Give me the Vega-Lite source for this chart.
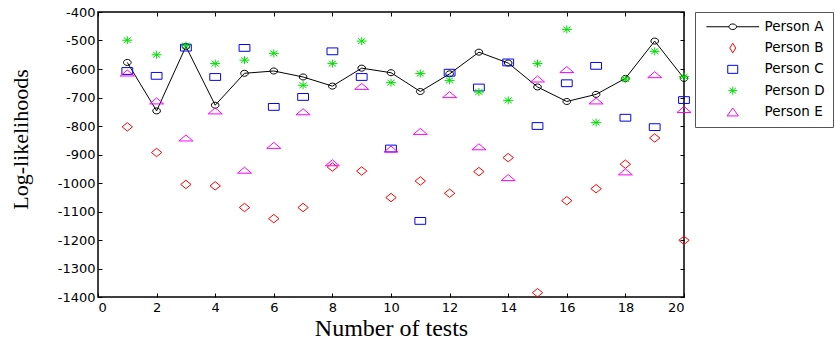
{
  "$schema": "https://vega.github.io/schema/vega-lite/v6.json",
  "width": 586,
  "height": 285,
  "autosize": {"type": "none"},
  "padding": {"left": 98, "top": 12, "right": 151, "bottom": 44},
  "background": "white",
  "config": {
    "view": {"stroke": "#000", "strokeWidth": 1.5},
    "axis": {
      "domain": false, "grid": false, "tickColor": "#000", "tickSize": -4, "tickWidth": 1,
      "labelFont": "DejaVu Sans", "labelFontSize": 13, "labelColor": "#000",
      "titleFont": "Liberation Serif", "titleColor": "#000", "titleFontWeight": "normal"
    }
  },
  "datasets": {
    "main": [
      {"t":1,"person":"Person A","v":-577},{"t":2,"person":"Person A","v":-747},{"t":3,"person":"Person A","v":-521},{"t":4,"person":"Person A","v":-727},{"t":5,"person":"Person A","v":-615},{"t":6,"person":"Person A","v":-607},{"t":7,"person":"Person A","v":-628},{"t":8,"person":"Person A","v":-660},{"t":9,"person":"Person A","v":-597},{"t":10,"person":"Person A","v":-613},{"t":11,"person":"Person A","v":-679},{"t":12,"person":"Person A","v":-617},{"t":13,"person":"Person A","v":-541},{"t":14,"person":"Person A","v":-579},{"t":15,"person":"Person A","v":-663},{"t":16,"person":"Person A","v":-714},{"t":17,"person":"Person A","v":-689},{"t":18,"person":"Person A","v":-633},{"t":19,"person":"Person A","v":-502},{"t":20,"person":"Person A","v":-633},
      {"t":1,"person":"Person B","v":-803},{"t":2,"person":"Person B","v":-893},{"t":3,"person":"Person B","v":-1005},{"t":4,"person":"Person B","v":-1010},{"t":5,"person":"Person B","v":-1086},{"t":6,"person":"Person B","v":-1125},{"t":7,"person":"Person B","v":-1086},{"t":8,"person":"Person B","v":-944},{"t":9,"person":"Person B","v":-958},{"t":10,"person":"Person B","v":-1051},{"t":11,"person":"Person B","v":-993},{"t":12,"person":"Person B","v":-1036},{"t":13,"person":"Person B","v":-960},{"t":14,"person":"Person B","v":-911},{"t":15,"person":"Person B","v":-1385},{"t":16,"person":"Person B","v":-1062},{"t":17,"person":"Person B","v":-1020},{"t":18,"person":"Person B","v":-934},{"t":19,"person":"Person B","v":-842},{"t":20,"person":"Person B","v":-1201},
      {"t":1,"person":"Person C","v":-607},{"t":2,"person":"Person C","v":-624},{"t":3,"person":"Person C","v":-525},{"t":4,"person":"Person C","v":-628},{"t":5,"person":"Person C","v":-526},{"t":6,"person":"Person C","v":-733},{"t":7,"person":"Person C","v":-698},{"t":8,"person":"Person C","v":-538},{"t":9,"person":"Person C","v":-628},{"t":10,"person":"Person C","v":-879},{"t":11,"person":"Person C","v":-1133},{"t":12,"person":"Person C","v":-613},{"t":13,"person":"Person C","v":-665},{"t":14,"person":"Person C","v":-577},{"t":15,"person":"Person C","v":-800},{"t":16,"person":"Person C","v":-650},{"t":17,"person":"Person C","v":-589},{"t":18,"person":"Person C","v":-771},{"t":19,"person":"Person C","v":-804},{"t":20,"person":"Person C","v":-709},
      {"t":1,"person":"Person D","v":-499},{"t":2,"person":"Person D","v":-550},{"t":3,"person":"Person D","v":-518},{"t":4,"person":"Person D","v":-581},{"t":5,"person":"Person D","v":-569},{"t":6,"person":"Person D","v":-545},{"t":7,"person":"Person D","v":-657},{"t":8,"person":"Person D","v":-581},{"t":9,"person":"Person D","v":-502},{"t":10,"person":"Person D","v":-648},{"t":11,"person":"Person D","v":-616},{"t":12,"person":"Person D","v":-640},{"t":13,"person":"Person D","v":-681},{"t":14,"person":"Person D","v":-710},{"t":15,"person":"Person D","v":-581},{"t":16,"person":"Person D","v":-461},{"t":17,"person":"Person D","v":-788},{"t":18,"person":"Person D","v":-635},{"t":19,"person":"Person D","v":-538},{"t":20,"person":"Person D","v":-627},
      {"t":1,"person":"Person E","v":-614},{"t":2,"person":"Person E","v":-712},{"t":3,"person":"Person E","v":-842},{"t":4,"person":"Person E","v":-747},{"t":5,"person":"Person E","v":-955},{"t":6,"person":"Person E","v":-868},{"t":7,"person":"Person E","v":-750},{"t":8,"person":"Person E","v":-929},{"t":9,"person":"Person E","v":-661},{"t":10,"person":"Person E","v":-881},{"t":11,"person":"Person E","v":-819},{"t":12,"person":"Person E","v":-690},{"t":13,"person":"Person E","v":-873},{"t":14,"person":"Person E","v":-981},{"t":15,"person":"Person E","v":-635},{"t":16,"person":"Person E","v":-602},{"t":17,"person":"Person E","v":-712},{"t":18,"person":"Person E","v":-961},{"t":19,"person":"Person E","v":-620},{"t":20,"person":"Person E","v":-742}
    ],
    "persons": [
      {"person":"Person A"},{"person":"Person B"},{"person":"Person C"},{"person":"Person D"},{"person":"Person E"}
    ]
  },
  "layer": [
    {
      "data": {"name": "main"},
      "transform": [{"filter": "datum.person === 'Person A'"}],
      "mark": {"type": "line", "color": "#000", "strokeWidth": 1},
      "encoding": {
        "x": {"field": "t", "type": "quantitative",
          "scale": {"domain": [0, 20], "nice": false, "zero": false},
          "axis": {"orient": "bottom", "values": [0,2,4,6,8,10,12,14,16,18,20], "labelPadding": 8,
            "title": "Number of tests", "titleFontSize": 24, "titleBaseline": "alphabetic", "titleY": 38}},
        "y": {"field": "v", "type": "quantitative",
          "scale": {"domain": [-1400, -400], "nice": false, "zero": false},
          "axis": {"orient": "left", "values": [-1400,-1300,-1200,-1100,-1000,-900,-800,-700,-600,-500,-400],
            "labelExpr": "'' + datum.value", "labelPadding": 7,
            "title": "Log-likelihoods", "titleFontSize": 22, "titleBaseline": "alphabetic",
            "titleAngle": -90, "titleX": -71, "titleY": 127}}
      }
    },
    {
      "data": {"name": "main"},
      "mark": {"type": "point", "filled": false, "size": 64, "strokeWidth": 1, "opacity": 1},
      "encoding": {
        "x": {"field": "t", "type": "quantitative",
          "scale": {"domain": [0, 20], "nice": false, "zero": false},
          "axis": {"orient": "top", "values": [0,2,4,6,8,10,12,14,16,18,20], "labels": false, "title": null}},
        "y": {"field": "v", "type": "quantitative",
          "scale": {"domain": [-1400, -400], "nice": false, "zero": false},
          "axis": {"orient": "right", "values": [-1400,-1300,-1200,-1100,-1000,-900,-800,-700,-600,-500,-400], "labels": false, "title": null}},
        "color": {"field": "person", "type": "nominal",
          "scale": {"domain": ["Person A","Person B","Person C","Person D","Person E"], "range": ["#000000","#ff0000","#0000ff","#00e000","#ff00ff"]},
          "legend": null},
        "shape": {"field": "person", "type": "nominal",
          "scale": {"domain": ["Person A","Person B","Person C","Person D","Person E"],
            "range": [
              "M-0.95,0A0.95,0.75 0 1,0 0.95,0A0.95,0.75 0 1,0 -0.95,0Z",
              "M0,-1.05L1.3,0L0,1.05L-1.3,0Z",
              "M-1.35,-0.85H1.35V0.85H-1.35Z",
              "M-1.25,0H1.25M0,-1V1M-0.9,-0.7L0.9,0.7M-0.9,0.7L0.9,-0.7",
              "M-1.75,0.75H1.75L0,-0.75Z"
            ]},
          "legend": null}
      }
    },
    {
      "data": {"name": "persons"},
      "mark": {"type": "point", "filled": false, "size": 64, "strokeWidth": 1, "opacity": 0},
      "encoding": {
        "color": {"field": "person", "type": "nominal",
          "scale": {"domain": ["Person A","Person B","Person C","Person D","Person E"], "range": ["#000000","#ff0000","#0000ff","#00e000","#ff00ff"]},
          "legend": {"title": null, "orient": "right", "offset": 10, "padding": 8, "strokeColor": "#555", "fillColor": "#fff",
            "symbolSize": 64, "symbolStrokeWidth": 1, "symbolOpacity": 1, "symbolOffset": 23, "labelOffset": 25,
            "labelFont": "DejaVu Sans", "labelFontSize": 13.5, "labelColor": "#000", "rowPadding": 6.3}},
        "shape": {"field": "person", "type": "nominal",
          "scale": {"domain": ["Person A","Person B","Person C","Person D","Person E"],
            "range": [
              "M-6.6,0H-0.95M0.95,0H6.6M-0.95,0A0.95,0.7 0 1,0 0.95,0A0.95,0.7 0 1,0 -0.95,0Z",
              "M0,-1.2L0.75,0L0,1.2L-0.75,0Z",
              "M-1.25,-1H1.25V1H-1.25Z",
              "M-1.1,0H1.1M0,-1V1M-0.8,-0.7L0.8,0.7M-0.8,0.7L0.8,-0.7",
              "M-1.4,1H1.4L0,-1Z"
            ]},
          "legend": {"title": null, "orient": "right", "offset": 10, "padding": 8, "strokeColor": "#555", "fillColor": "#fff",
            "symbolSize": 64, "symbolStrokeWidth": 1, "symbolOpacity": 1, "symbolOffset": 23, "labelOffset": 25,
            "labelFont": "DejaVu Sans", "labelFontSize": 13.5, "labelColor": "#000", "rowPadding": 6.3}}
      }
    }
  ],
  "resolve": {
    "axis": {"x": "independent", "y": "independent"},
    "scale": {"shape": "independent", "color": "independent"}
  }
}
